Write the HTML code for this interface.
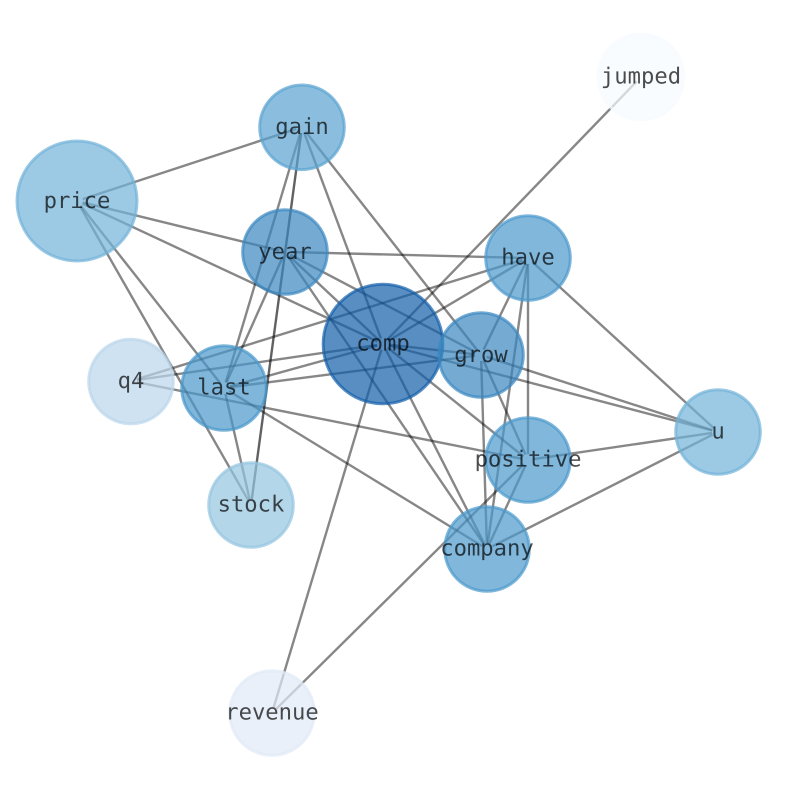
<!DOCTYPE html>
<html>
<head>
<meta charset="utf-8">
<style>
html,body{margin:0;padding:0;background:#fff;width:794px;height:790px;overflow:hidden}
svg{display:block}
text{font-family:"DejaVu Sans Mono","Liberation Mono",monospace;font-size:22.2px;text-anchor:middle;fill:#000;fill-opacity:.7;text-rendering:geometricPrecision}
line{stroke:#000;stroke-opacity:.47;stroke-width:2.4}
circle{stroke-width:3;fill-opacity:.7;stroke-opacity:.7}
</style>
</head>
<body>
<svg width="794" height="790" viewBox="0 0 794 790" xmlns="http://www.w3.org/2000/svg">
<g>
<line x1="296.3" y1="128.9" x2="82.7" y2="199.1"/>
<line x1="300.3" y1="132.7" x2="225.7" y2="382.3"/>
<line x1="301.2" y1="133" x2="251.8" y2="499" style="stroke-opacity:.62"/>
<line x1="304.1" y1="132.6" x2="380.9" y2="338.4"/>
<line x1="305.7" y1="131.7" x2="477.3" y2="350.3"/>
<line x1="82.8" y1="202.4" x2="279.2" y2="250.6"/>
<line x1="82.4" y1="203.5" x2="377.6" y2="341.5"/>
<line x1="80.7" y1="205.7" x2="220.3" y2="383.3"/>
<line x1="80" y1="206.2" x2="248" y2="499.8"/>
<line x1="291" y1="252.1" x2="522" y2="257.9"/>
<line x1="289.4" y1="256.1" x2="378.6" y2="339.9"/>
<line x1="290.3" y1="254.8" x2="475.7" y2="352.2"/>
<line x1="288.4" y1="257" x2="483.6" y2="544"/>
<line x1="282.5" y1="257.5" x2="226.5" y2="382.5"/>
<line x1="522.3" y1="259.8" x2="136.7" y2="379.2"/>
<line x1="522.9" y1="261.1" x2="388.1" y2="340.9"/>
<line x1="525.4" y1="263.4" x2="483.6" y2="349.6"/>
<line x1="527.2" y1="263.9" x2="487.8" y2="543.1"/>
<line x1="528" y1="264" x2="528" y2="454"/>
<line x1="532.4" y1="262" x2="713.6" y2="428"/>
<line x1="387.2" y1="339.7" x2="636.8" y2="81.3"/>
<line x1="389" y1="344.7" x2="475" y2="354.3"/>
<line x1="377.1" y1="344.9" x2="136.9" y2="380.1"/>
<line x1="377.2" y1="345.6" x2="229.8" y2="386.4"/>
<line x1="388.8" y1="345.5" x2="712.2" y2="430.5"/>
<line x1="387.7" y1="347.7" x2="523.3" y2="456.3"/>
<line x1="385.7" y1="349.3" x2="484.3" y2="543.7"/>
<line x1="381.3" y1="349.7" x2="273.7" y2="707.3"/>
<line x1="475" y1="355.8" x2="230" y2="387.2"/>
<line x1="483.5" y1="360.5" x2="525.5" y2="454.5"/>
<line x1="481.2" y1="361" x2="486.8" y2="543"/>
<line x1="486.7" y1="356.9" x2="712.3" y2="430.1"/>
<line x1="136.9" y1="382.2" x2="522.1" y2="458.8"/>
<line x1="229.1" y1="391.1" x2="481.9" y2="545.9"/>
<line x1="225.4" y1="393.9" x2="249.6" y2="499.1"/>
<line x1="712.1" y1="432.9" x2="533.9" y2="459.1"/>
<line x1="712.6" y1="434.7" x2="492.4" y2="546.3"/>
<line x1="525.5" y1="465.4" x2="489.5" y2="543.6"/>
<line x1="523.7" y1="464.2" x2="276.3" y2="708.8"/>
</g>
<g>
<circle cx="641" cy="77" r="43" fill="#f7fbff" stroke="#f7fbff"/>
<circle cx="302" cy="127.3" r="42.3" fill="#5aa3d0" stroke="#5aa3d0"/>
<circle cx="77" cy="201" r="60" fill="#72b2d8" stroke="#72b2d8"/>
<circle cx="285" cy="252" r="42.3" fill="#3a87c1" stroke="#3a87c1"/>
<circle cx="528" cy="258" r="42.3" fill="#4c99cc" stroke="#4c99cc"/>
<circle cx="383" cy="344" r="59.8" fill="#125ea8" stroke="#125ea8"/>
<circle cx="481" cy="355" r="42.3" fill="#3a87c1" stroke="#3a87c1"/>
<circle cx="131" cy="381.5" r="42.3" fill="#bad6eb" stroke="#bad6eb"/>
<circle cx="224" cy="388" r="42.3" fill="#4997cb" stroke="#4997cb"/>
<circle cx="718" cy="432" r="42.3" fill="#72b2d8" stroke="#72b2d8"/>
<circle cx="528" cy="460" r="42.3" fill="#4c99cc" stroke="#4c99cc"/>
<circle cx="251" cy="505" r="42.3" fill="#94c4df" stroke="#94c4df"/>
<circle cx="487" cy="549" r="42.3" fill="#4c99cc" stroke="#4c99cc"/>
<circle cx="272" cy="713" r="42.3" fill="#dfe9f6" stroke="#dfe9f6"/>
</g>
<g>
<text x="641" y="83.5">jumped</text>
<text x="302" y="134">gain</text>
<text x="77" y="208">price</text>
<text x="285" y="259">year</text>
<text x="528" y="264.5">have</text>
<text x="383" y="350.5">comp</text>
<text x="481" y="362">grow</text>
<text x="131" y="388">q4</text>
<text x="224" y="394.5">last</text>
<text x="718" y="438.5">u</text>
<text x="528" y="466.5">positive</text>
<text x="251" y="511.5">stock</text>
<text x="487" y="555.5">company</text>
<text x="272" y="719.5">revenue</text>
</g>
</svg>
</body>
</html>
